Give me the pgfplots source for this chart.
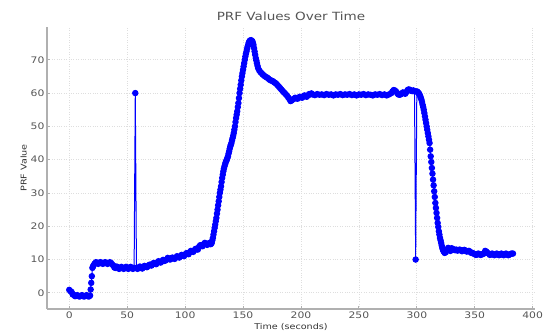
\documentclass[border=0pt]{standalone}
\usepackage{pgfplots}
\pgfplotsset{compat=1.18}
\usepackage{fontspec}
\setmainfont{DejaVu Sans}[FakeStretch=1.2]
\definecolor{txtgray}{RGB}{85,85,85}
\definecolor{spinegray}{RGB}{176,176,176}
\definecolor{gridgray}{RGB}{222,222,222}
\begin{document}
\begin{tikzpicture}
\begin{axis}[
  name=ax,
  scale only axis,
  width=488pt, height=282pt,
  xmin=-19.2, xmax=402, ymin=-4.85, ymax=79.85,
  xtick={0,50,...,400}, ytick={0,10,...,70},
  axis x line*=bottom, axis y line*=left,
  axis line style={spinegray, line width=1.3pt, -},
  tick style={spinegray, line width=0.8pt},
  tick align=inside, major tick length=3pt,
  grid=major,
  major grid style={gridgray, dotted, line width=0.7pt},
  /pgf/number format/assume math mode=true,
  ticklabel style={font=\fontsize{9}{10}\selectfont, text=txtgray},
  xticklabel style={yshift=1pt},
  yticklabel style={xshift=1pt},
  title={PRF Values Over Time},
  title style={font=\fontsize{11.3}{13}\selectfont, text=txtgray, yshift=-3pt},
  xlabel={Time (seconds)},
  ylabel={PRF Value},
  label style={font=\fontsize{8}{9}\selectfont, text=black!80},
  xlabel style={yshift=1.5pt},
  ylabel style={yshift=-3pt},
  clip=false,
]
\addplot[blue, line width=1pt, mark=*, mark size=2.7pt, mark options={fill=blue, draw=blue}] table {
x y
0 0.9
1 0.5
2 0.3
3 -0.5
4 -0.6
5 -1.0
6 -0.9
7 -0.7
8 -1.0
9 -1.1
10 -0.9
11 -0.7
12 -1.0
13 -1.1
14 -0.9
15 -0.7
16 -1.0
17 -1.1
18 -0.8
18.5 1
19 3
19.5 5
20 7.5
20.5 7.9
21 8.3
22 8.8
23 9.2
24 9.0
25 8.7
26 9.1
27 9.2
28 9.0
29 8.7
30 9.0
31 9.2
32 9.0
33 8.7
34 8.9
35 9.2
36 9.0
37 8.6
38 8.2
39 7.6
40 7.5
41 7.9
42 7.6
43 7.2
44 7.4
45 7.8
46 7.5
47 7.2
48 7.5
49 7.8
50 7.5
51 7.2
52 7.6
53 7.8
54 7.4
55 7.2
56 7.5
57 60
58 7.5
59 7.2
60 7.6
61 7.9
62 7.5
63 7.3
64 7.8
65 8.1
66 7.9
67 7.7
68 8.0
69 8.4
70 8.5
71 8.2
72 8.6
73 9.0
74 8.8
75 8.6
76 9.0
77 9.5
78 9.3
79 9.1
80 9.5
81 9.9
82 9.6
83 9.7
84 10.0
85 10.5
86 10.3
87 10.0
88 10.2
89 10.6
90 10.4
91 10.2
92 10.6
93 11.0
94 10.8
95 10.6
96 11.0
97 11.4
98 11.3
99 11.0
100 11.5
101 11.9
102 11.8
103 11.6
104 12.2
105 12.6
106 12.5
107 12.3
108 12.8
109 13.2
110 13.2
111 13.0
112 13.8
113 14.3
114 14.3
115 14.0
116 14.6
117 15.0
118 14.8
119 14.4
120 14.7
121 15.0
122 14.6
122.5 14.8
123 15
123.5 15.8
124 16.5
124.5 17.5
125 18.5
125.5 19.5
126 20.5
126.5 21.5
127 22.5
127.5 23.8
128 25
128.5 26.3
129 27.5
129.5 28.8
130 30
130.5 31
131 32
131.5 33.3
132 34.5
132.5 35.5
133 36.5
133.5 37.3
134 38
134.5 38.6
135 39.2
135.5 39.6
136 40
136.5 40.5
137 41
137.5 41.8
138 42.5
138.5 43.3
139 44
139.5 44.5
140 45
140.5 45.8
141 46.5
141.5 47.2
142 48
142.5 49
143 50
143.5 51.3
144 52.5
144.5 53.5
145 54.5
145.5 55.8
146 57
146.5 58.5
147 60
147.5 61.3
148 62.5
148.5 63.8
149 65
149.5 66
150 67
150.5 68
151 69
151.5 70
152 71
152.5 71.8
153 72.5
153.5 73.3
154 74
154.5 74.6
155 75.2
155.5 75.5
156 75.8
157 75.9
158 75.6
158.5 75.1
159 74.5
159.5 73.5
160 72.5
160.5 71.5
161 70.5
161.5 69.8
162 69
162.5 68.2
163 67.5
164 66.8
165 66.3
166 66
167 65.6
168 65.3
169 65.0
170 64.8
171 64.6
172 64.3
173 64.0
174 63.8
175 63.7
176 63.5
177 63.2
178 63
179 62.7
180 62.3
181 61.9
182 61.5
183 61.1
184 60.7
185 60.3
186 60
187 59.6
188 59.2
189 58.7
190 58.2
191 57.6
192 57.8
193 58.1
194 58.3
195 58.6
196 58.5
197 58.3
198 58.6
199 58.9
200 58.8
201 58.6
202 59.0
203 59.3
204 59.1
205 58.9
206 59.3
207 59.7
208 59.6
209 59.9
210 59.6
212 59.4
214 59.7
216 59.5
218 59.6
220 59.4
222 59.7
224 59.5
226 59.6
228 59.3
230 59.6
232 59.5
234 59.7
236 59.4
238 59.6
240 59.5
242 59.7
244 59.4
246 59.6
248 59.3
250 59.6
252 59.5
254 59.7
256 59.4
258 59.6
260 59.5
262 59.3
264 59.6
266 59.5
268 59.7
270 59.4
272 59.6
274 59.3
276 59.6
278 60.0
279 60.5
280 60.9
281 60.8
282 60.5
283 60.0
284 59.6
285 59.5
286 59.6
287 59.9
288 60.2
289 60.0
290 59.8
291 60.3
292 60.9
293 61.1
294 61.0
295 60.7
296 60.6
297 60.8
298 60.5
299 10
300 60.5
300.5 60.4
301 60.2
301.5 60.0
302 59.8
302.5 59.4
303 59.0
303.5 58.5
304 58.0
304.5 57.3
305 56.5
305.5 55.8
306 55.0
306.5 54.0
307 53.0
307.5 52.0
308 51.0
308.5 50.0
309 49.0
309.5 48.0
310 47.0
310.5 46.0
311 45.0
311.5 43.0
312 41.0
312.5 39.3
313 37.5
313.5 35.8
314 34.0
314.5 32.3
315 30.5
315.5 28.8
316 27.0
316.5 25.5
317 24.0
317.5 22.5
318 21.0
318.5 19.8
319 18.5
319.5 17.5
320 16.5
320.5 15.8
321 15.0
321.5 14.2
322 13.5
322.5 13.0
323 12.5
324 12.0
325 12.2
326 12.8
327 13.5
328 13.2
329 12.6
330 13.4
331 13.2
332 13.0
333 12.8
334 13.0
335 12.7
336 12.8
337 13.0
338 12.8
339 12.5
340 12.8
341 12.9
342 12.7
343 12.4
344 12.5
345 12.6
346 12.3
347 12.0
348 12.0
349 11.8
350 11.6
351 11.4
352 11.5
353 11.8
354 11.6
355 11.4
356 11.5
357 11.7
358 11.8
359 12.6
360 12.4
361 12.0
362 11.8
363 11.4
364 11.5
365 11.8
366 11.6
367 11.3
368 11.5
369 11.8
370 11.6
371 11.3
372 11.5
373 11.8
374 11.5
375 11.3
376 11.6
377 11.8
378 11.5
379 11.3
380 11.5
381 11.7
382 11.8
383 11.8
};
\end{axis}
\pgfresetboundingbox
\path ([shift={(-47pt,-27pt)}]ax.south west) rectangle ([shift={(10pt,27pt)}]ax.north east);
\end{tikzpicture}
\end{document}
